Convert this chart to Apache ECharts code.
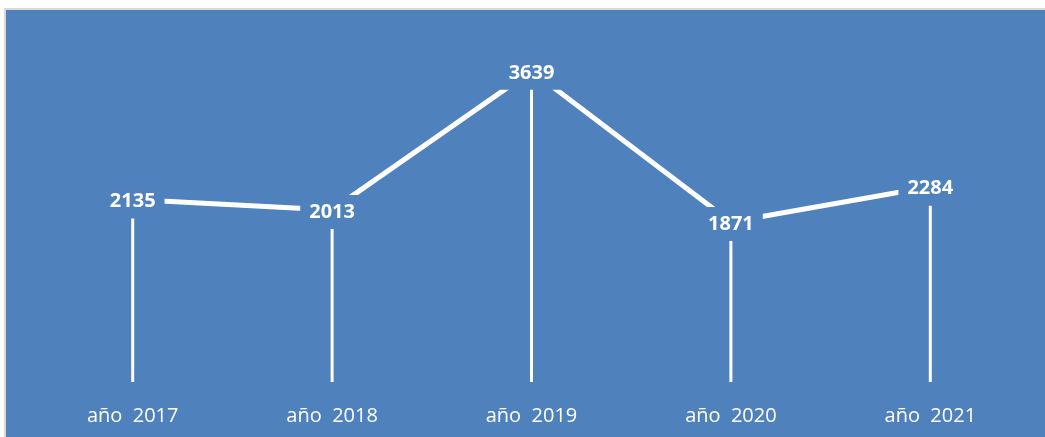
<!DOCTYPE html>
<html>
<head>
<meta charset="utf-8">
<script src="https://cdn.jsdelivr.net/npm/echarts@6/dist/echarts.min.js"></script>
<style>
  html, body { margin: 0; padding: 0; background: #ffffff; width: 1045px; height: 437px; overflow: hidden; }
  #frame { position: absolute; left: 4px; top: 8px; width: 1041px; height: 429px; background: #D9D9D9; }
  #chart { position: absolute; left: 2px; top: 2px; width: 1039px; height: 427px; background: #4F81BD; }
</style>
</head>
<body>
<div id="frame"><div id="chart"></div></div>
<script>
const categories = ['año  2017', 'año  2018', 'año  2019', 'año  2020', 'año  2021'];
const values = [2135, 2013, 3639, 1871, 2284];

const chart = echarts.init(document.getElementById('chart'), null, { renderer: 'canvas' });
chart.setOption({
  backgroundColor: '#4F81BD',
  animation: false,
  grid: { left: 27, right: 15, top: 30, bottom: 55 },
  xAxis: {
    type: 'category',
    data: categories,
    boundaryGap: true,
    axisLine: { show: false },
    axisTick: { show: false },
    axisLabel: { color: '#ffffff', fontSize: 20, fontFamily: 'Open Sans', margin: 24 }
  },
  yAxis: {
    type: 'value',
    min: 0,
    max: 4000,
    show: false,
    splitLine: { show: false }
  },
  series: [
    {
      type: 'bar',
      data: values,
      barWidth: 3,
      itemStyle: { color: '#ffffff' },
      emphasis: { disabled: true },
      z: 1
    },
    {
      type: 'line',
      data: values,
      symbol: 'circle',
      symbolSize: 2,
      showSymbol: true,
      itemStyle: { color: '#ffffff' },
      lineStyle: { color: '#ffffff', width: 5 },
      emphasis: { disabled: true },
      z: 2,
      label: {
        show: true,
        position: 'inside',
        offset: [0, 2],
        color: '#ffffff',
        fontWeight: 'bold',
        fontSize: 20,
        fontFamily: 'Open Sans',
        backgroundColor: '#4F81BD',
        padding: [7, 9]
      }
    }
  ]
});
</script>
</body>
</html>
